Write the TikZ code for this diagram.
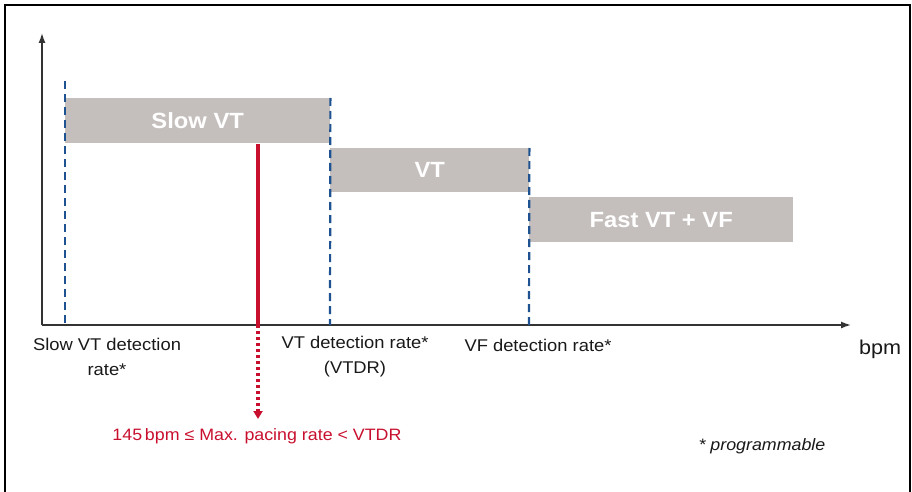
\documentclass[tikz,border=0pt]{standalone}
\usepackage{fontspec}
\setmainfont{Liberation Sans}[FakeStretch=1.08]
\usetikzlibrary{arrows.meta}
\definecolor{boxgray}{HTML}{C4BFBC}
\definecolor{dblue}{HTML}{1F5290}
\definecolor{cred}{HTML}{C8102E}
\definecolor{axisgray}{HTML}{333333}
\begin{document}
\begin{tikzpicture}[x=1pt,y=-1pt,
  band/.style={fill=boxgray, draw=none, text=white, anchor=north west, inner sep=0pt,
    font=\fontsize{22}{26}\selectfont\bfseries},
  lbl/.style={align=center, inner sep=0pt, text=black!90, font=\fontsize{17}{25}\selectfont},
  axisline/.style={draw=axisgray, line width=1.4pt, -{Latex[length=10pt,width=7pt]}},
  ratedash/.style={draw=dblue, line width=2.2pt, dash pattern=on 8pt off 5pt},
  frameline/.style={draw=black, line width=2.5pt}
]
\useasboundingbox (0,0) rectangle (912,492);
% frame (open at the bottom)
\draw[frameline] (5,495) -- (5,5) -- (910,5) -- (910,495);

% axes
\coordinate (O) at (42,325);
\coordinate (ytip) at (42,33);
\coordinate (xtip) at (851,325);
\draw[axisline] (O) -- (ytip);
\draw[axisline] (O) -- (xtip);

% bands
\node[band, minimum width=265pt, minimum height=45pt] (slow) at (65,98) {Slow VT};
\node[band, minimum width=199pt, minimum height=44pt] (vt) at (330,148) {VT};
\node[band, minimum width=264pt, minimum height=45pt] (fast) at (529,197) {Fast VT + VF};

% dashed detection-rate lines
\coordinate (d1t) at (65,81);
\coordinate (d1b) at (65,325);
\coordinate (d2b) at (330,325);
\coordinate (d3b) at (529,325);
\draw[ratedash] (d1t) -- (d1b);
\draw[ratedash] (slow.north east) -- (d2b);
\draw[ratedash] (vt.north east) -- (d3b);

% red max pacing rate line
\coordinate (rtop) at (258,144);
\coordinate (raxis) at (258,325);
\coordinate (rtip) at (258,419);
\draw[draw=cred, line width=3.5pt] (rtop) -- (raxis);
\draw[draw=cred, line width=3.2pt, dash pattern=on 3pt off 3pt,
  -{Triangle[length=8pt,width=9pt]}] (raxis) -- (rtip);
\node[text=cred, inner sep=0pt, font=\fontsize{16.5}{18}\selectfont] (maxp) at (257,436)
  {145\,bpm ≤ Max. pacing rate < VTDR};

% labels
\node[lbl] (l1) at (107,357) {Slow VT detection\\rate*};
\node[lbl] (l2) at (355,357) {VT detection rate*\\(VTDR)};
\node[lbl] (l3) at (538,345) {VF detection rate*};
\node[lbl, font=\fontsize{20}{22}\selectfont] (bpm) at (880,349) {bpm};
\node[lbl, font=\fontsize{16.5}{18}\itshape\selectfont] (prog) at (762,446) {* programmable};
\end{tikzpicture}
\end{document}
